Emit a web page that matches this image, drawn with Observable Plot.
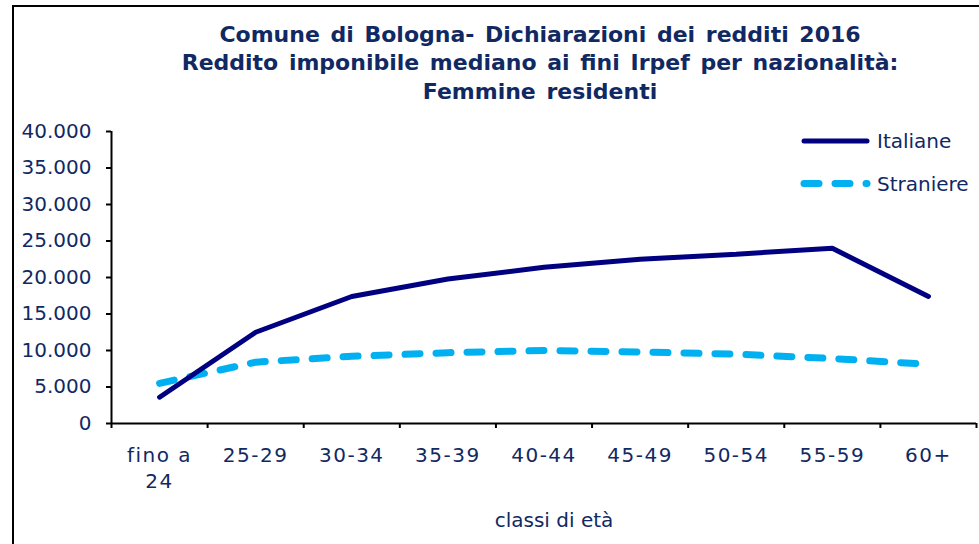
<!DOCTYPE html>
<html><head><meta charset="utf-8">
<script src="https://cdn.jsdelivr.net/npm/d3@7"></script>
<script src="https://cdn.jsdelivr.net/npm/@observablehq/plot@0.6"></script>
<style>
body{margin:0;background:#fff;}
#wrap{position:relative;width:979px;height:544px;overflow:hidden;font-family:"DejaVu Sans",Verdana,sans-serif;background:#fff;}
#frame{position:absolute;left:12px;top:5px;width:1000px;height:600px;border-left:2px solid #000;border-top:2px solid #000;box-sizing:border-box;}
#chart{position:absolute;left:0;top:0;}
#overlay{position:absolute;left:0;top:0;pointer-events:none;}
</style>
</head><body>
<div id="wrap"><div id="frame"></div><div id="chart"></div>
<svg id="overlay" width="979" height="544"></svg></div>
<script>
const categories = ["fino a\n24","25-29","30-34","35-39","40-44","45-49","50-54","55-59","60+"];
const italiane  = [3600, 12500, 17400, 19800, 21400, 22500, 23200, 24000, 17400];
const straniere = [5500, 8400, 9200, 9700, 10000, 9800, 9500, 8900, 8100];
const yTicks = [0,5000,10000,15000,20000,25000,30000,35000,40000];
const seriesNames = ["Italiane","Straniere"];
const titleLines = ["Comune di Bologna- Dichiarazioni dei redditi 2016","Reddito imponibile mediano ai fini Irpef per nazionalità:","Femmine residenti"];
const xTitle = "classi di età";

const textColor = "#112963";
const colItal = "#000080";
const colStra = "#00b0f0";

const idx = categories.map((_, i) => i);
const bounds = d3.range(-0.5, categories.length, 1);
const rows = [];
categories.forEach((c, i) => {
  rows.push({i, cat: c, serie: seriesNames[0], v: italiane[i]});
  rows.push({i, cat: c, serie: seriesNames[1], v: straniere[i]});
});
const it = d3.formatLocale({decimal: ",", thousands: ".", grouping: [3], currency: ["€", ""]});
const fmt = it.format(",d");

const chart = Plot.plot({
  width: 979, height: 544,
  marginLeft: 111, marginRight: 3, marginTop: 131, marginBottom: 121,
  style: {fontFamily: '"DejaVu Sans", Verdana, sans-serif', background: "transparent"},
  x: {type: "linear", domain: [-0.5, categories.length - 0.5]},
  y: {domain: [0, 40000]},
  marks: [
    Plot.axisY({ticks: yTicks, tickFormat: fmt, tickSize: 5, tickPadding: 15, fontSize: 20, fill: textColor, stroke: "#000", strokeWidth: 2, label: null}),
    Plot.axisX({ticks: bounds, tickFormat: () => "", tickSize: 5, stroke: "#000", strokeWidth: 2, label: null}),
    Plot.axisX({ticks: idx, tickFormat: i => categories[i], tickSize: 0, tickPadding: 20, fontSize: 20, lineHeight: 1.3, fill: textColor, label: null, style: {letterSpacing: "1.5px"}}),
    Plot.ruleY([0], {stroke: "#000", strokeWidth: 2}),
    Plot.ruleX([-0.5], {stroke: "#000", strokeWidth: 2}),
    Plot.line(rows.filter(d => d.serie === seriesNames[1]), {x: "i", y: "v", stroke: colStra, strokeWidth: 7, strokeDasharray: "15,16", strokeLinecap: "round"}),
    Plot.line(rows.filter(d => d.serie === seriesNames[0]), {x: "i", y: "v", stroke: colItal, strokeWidth: 5, strokeLinecap: "round", strokeLinejoin: "miter"})
  ]
});
document.getElementById("chart").appendChild(chart);
// letter spacing for category labels (wider glyphs as in the original)
d3.select(chart).selectAll("g[aria-label='x-axis tick label'] text").attr("letter-spacing", "1.5px");

const ov = d3.select("#overlay");
const ff = '"DejaVu Sans", Verdana, sans-serif';
titleLines.forEach((t, k) => {
  ov.append("text").attr("x", 540).attr("y", 42 + k * 28.3).attr("text-anchor", "middle")
    .attr("font-family", ff).attr("font-weight", "bold").attr("font-size", 22)
    .attr("word-spacing", 3).attr("fill", textColor).text(t);
});
ov.append("text").attr("x", 554).attr("y", 527).attr("text-anchor", "middle")
  .attr("font-family", ff).attr("font-size", 20).attr("fill", textColor).text(xTitle);
// legend
const leg = [{name: seriesNames[0], y: 141, c: colItal, w: 5, dash: null},
             {name: seriesNames[1], y: 183.5, c: colStra, w: 7, dash: "15,16"}];
leg.forEach(l => {
  ov.append("line").attr("x1", 804).attr("x2", 867).attr("y1", l.y).attr("y2", l.y)
    .attr("stroke", l.c).attr("stroke-width", l.w).attr("stroke-linecap", "round")
    .attr("stroke-dasharray", l.dash);
  ov.append("text").attr("x", 877).attr("y", l.y + 7).attr("font-family", ff)
    .attr("font-size", 20).attr("fill", textColor).text(l.name);
});
</script>
</body></html>
